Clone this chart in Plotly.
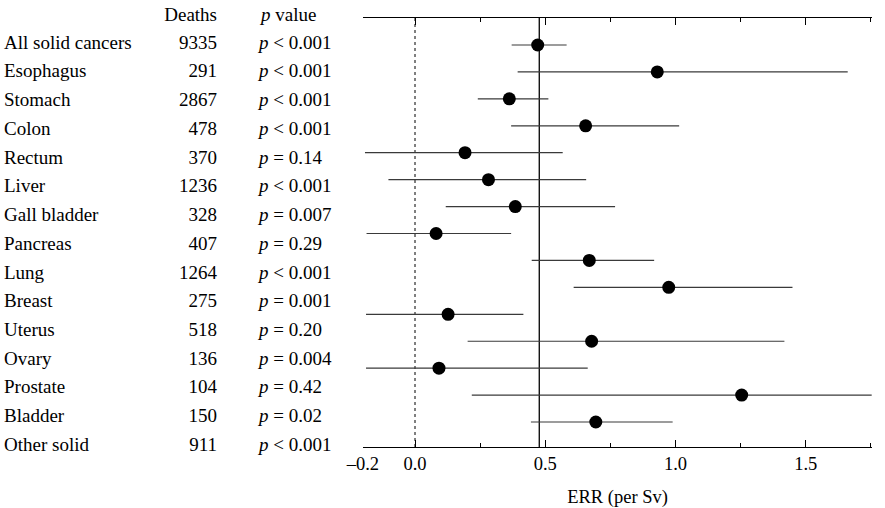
import plotly.graph_objects as go

# ---- data ----
sites = ["All solid cancers", "Esophagus", "Stomach", "Colon", "Rectum", "Liver",
         "Gall bladder", "Pancreas", "Lung", "Breast", "Uterus", "Ovary",
         "Prostate", "Bladder", "Other solid"]
deaths = [9335, 291, 2867, 478, 370, 1236, 328, 407, 1264, 275, 518, 136, 104, 150, 911]
p_values = ["< 0.001", "< 0.001", "< 0.001", "< 0.001", "= 0.14", "< 0.001", "= 0.007",
            "= 0.29", "< 0.001", "= 0.001", "= 0.20", "= 0.004", "= 0.42", "= 0.02", "< 0.001"]
err = [0.471, 0.930, 0.362, 0.655, 0.192, 0.282, 0.385, 0.081, 0.669, 0.974,
       0.127, 0.678, 0.092, 1.254, 0.694]
ci_low = [0.371, 0.394, 0.241, 0.369, -0.192, -0.102, 0.118, -0.186, 0.448, 0.609,
          -0.188, 0.202, -0.188, 0.218, 0.445]
ci_high = [0.582, 1.661, 0.512, 1.014, 0.567, 0.657, 0.768, 0.369, 0.918, 1.449,
           0.416, 1.418, 0.663, 1.753, 0.989]
reference_err = 0.477
tick_vals = [-0.2, 0.0, 0.5, 1.0, 1.5]
tick_text = ["\u20130.2", "0.0", "0.5", "1.0", "1.5"]
minor_tick_vals = [0.25, 0.75, 1.25, 1.75]

W, H = 885, 508
FONT = "Liberation Serif, Times New Roman, serif"

rows = list(range(len(sites)))
fig = go.Figure()

# forest plot markers with CIs
fig.add_trace(go.Scatter(
    x=err, y=rows, mode="markers",
    marker=dict(color="black", size=13, symbol="circle"),
    error_x=dict(type="data", symmetric=False,
                 array=[h - e for h, e in zip(ci_high, err)],
                 arrayminus=[e - l for e, l in zip(err, ci_low)],
                 width=0, thickness=1.2, color="#3a3a3a"),
    xaxis="x", yaxis="y", showlegend=False, hoverinfo="skip"))

# label table (separate axes)
txt_font = dict(family=FONT, size=19, color="black")
fig.add_trace(go.Scatter(
    x=[4] * len(sites), y=rows, text=sites, mode="text",
    textposition="middle right", textfont=txt_font,
    xaxis="x2", yaxis="y2", showlegend=False, hoverinfo="skip"))
fig.add_trace(go.Scatter(
    x=[217] * len(sites), y=rows, text=[str(d) for d in deaths], mode="text",
    textposition="middle left", textfont=txt_font,
    xaxis="x2", yaxis="y2", showlegend=False, hoverinfo="skip"))
fig.add_trace(go.Scatter(
    x=[259] * len(sites), y=rows,
    text=["<i>p</i> " + p.replace("<", "&lt;") for p in p_values], mode="text",
    textposition="middle right", textfont=txt_font,
    xaxis="x2", yaxis="y2", showlegend=False, hoverinfo="skip"))
# header
header_row = -0.97
fig.add_trace(go.Scatter(
    x=[217], y=[header_row], text=["Deaths"], mode="text",
    textposition="middle left", textfont=txt_font,
    xaxis="x2", yaxis="y2", showlegend=False, hoverinfo="skip"))
fig.add_trace(go.Scatter(
    x=[261], y=[header_row], text=["<i>p</i> value"], mode="text",
    textposition="middle right", textfont=txt_font,
    xaxis="x2", yaxis="y2", showlegend=False, hoverinfo="skip"))

# vertical reference lines
fig.add_shape(type="line", xref="x", yref="y domain", x0=0, x1=0, y0=0, y1=1,
              line=dict(color="black", width=1, dash="dot"), layer="below")
fig.add_shape(type="line", xref="x", yref="y domain", x0=reference_err, x1=reference_err,
              y0=0, y1=1, line=dict(color="black", width=1.3), layer="below")

plot_left, plot_right = 362.9, 872.2
plot_top, plot_bottom = 17.5, 447.0
row0, row_step = 45.0, 26.93
lab0, lab_step = 44.0, 28.72

fig.update_layout(
    width=W, height=H,
    margin=dict(l=0, r=0, t=0, b=0),
    paper_bgcolor="white", plot_bgcolor="white",
    font=dict(family=FONT, size=18.5, color="black"),
    xaxis=dict(domain=[plot_left / W, plot_right / W], range=[-0.2, 1.755],
               showgrid=False, zeroline=False, showline=True, linecolor="black",
               linewidth=1.3, mirror="ticks", ticks="inside", ticklen=7, tickwidth=1,
               tickcolor="black", tickvals=tick_vals, ticktext=tick_text,
               tickfont=dict(family=FONT, size=18.5, color="black"),
               minor=dict(tickvals=minor_tick_vals, ticks="inside", ticklen=4,
                          tickwidth=1, tickcolor="black"),
               title=dict(text="ERR (per Sv)", standoff=16,
                          font=dict(family=FONT, size=18.5, color="black")),
               automargin=False, fixedrange=True),
    yaxis=dict(domain=[(H - plot_bottom) / H, (H - plot_top) / H],
               range=[(plot_bottom - row0) / row_step, (plot_top - row0) / row_step],
               visible=False, fixedrange=True),
    xaxis2=dict(domain=[0, 355 / W], range=[0, 355], visible=False, anchor="y2",
                fixedrange=True),
    yaxis2=dict(domain=[0, 1], range=[(H - lab0) / lab_step, (0 - lab0) / lab_step],
                visible=False, anchor="x2", fixedrange=True),
)

fig.write_html("out.html")
